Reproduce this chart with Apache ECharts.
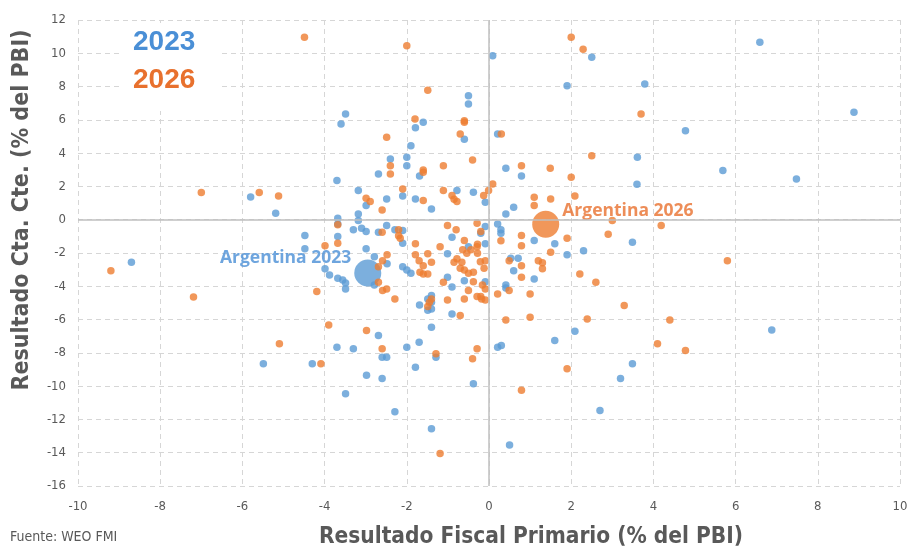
<!DOCTYPE html>
<html><head><meta charset="utf-8">
<script src="https://cdn.jsdelivr.net/npm/echarts@6/dist/echarts.min.js"></script>
<style>html,body{margin:0;padding:0;background:#fff}#c{width:914px;height:549px}</style>
</head><body><div id="c"></div>
<script>
const xTicks = [-10,-8,-6,-4,-2,0,2,4,6,8,10];
const yTicks = [-16,-14,-12,-10,-8,-6,-4,-2,0,2,4,6,8,10,12];
const argentina2023 = [-2.95,-3.2];
const argentina2026 = [1.38,-0.27];
const blue2023 = [
[0.09,9.85],[2.5,9.76],[1.9,8.05],[3.79,8.16],[4.78,5.35],[0.21,5.15],[3.61,3.75],[0.41,3.09],
[6.59,10.66],[8.88,6.46],[5.69,2.95],[-0.50,7.45],[-0.50,6.95],[-3.49,6.35],[-3.60,5.75],[-1.60,5.85],
[-1.79,5.53],[-0.60,4.83],[-1.90,4.45],[-2.40,3.65],[-2.0,3.75],[-2.0,3.25],[-5.80,1.37],[-5.19,0.39],
[-8.70,-2.55],[-2.69,2.75],[-1.69,2.63],[-3.70,2.35],[-3.18,1.75],[-2.10,1.43],[-2.99,0.85],[-2.49,1.25],
[-1.79,1.25],[-1.40,0.65],[-0.78,1.75],[-0.38,1.65],[-3.68,0.09],[-3.68,-0.25],[-3.18,0.35],[-3.18,-0.05],
[-3.30,-0.61],[-3.10,-0.51],[-2.99,-0.71],[-2.49,-0.35],[-2.69,-0.75],[-2.29,-0.61],[-2.10,-0.65],[-2.10,-1.41],
[-4.48,-0.95],[-4.48,-1.75],[-3.68,-1.01],[-2.99,-1.75],[-2.79,-2.22],[-2.48,-2.65],[-2.79,-3.92],[-3.99,-2.95],
[-3.88,-3.32],[-3.68,-3.51],[-3.56,-3.62],[-3.49,-3.81],[-3.49,-4.16],[-2.10,-2.82],[-2.0,-3.02],[-1.90,-3.21],
[-1.01,-2.05],[-1.01,-3.45],[-0.90,-4.05],[-1.40,-4.56],[-1.49,-4.76],[-1.40,-4.96],[-1.69,-5.12],[-1.49,-5.44],
[-1.40,-5.36],[-1.40,-6.46],[-0.90,-5.66],[-0.60,-3.66],[-0.90,-1.05],[-0.50,-1.62],[0.79,2.63],[3.60,2.13],
[-0.09,1.05],[0.60,0.75],[0.41,0.35],[0.21,-0.25],[0.29,-0.61],[0.29,-0.81],[-0.09,-0.41],[-0.20,-0.81],
[-0.09,-1.45],[1.10,-1.25],[1.60,-1.45],[1.90,-2.11],[2.30,-1.87],[3.49,-1.35],[0.53,-2.31],[0.71,-2.31],
[0.60,-3.06],[1.10,-3.56],[-0.09,-3.72],[0.41,-3.92],[0.41,-4.11],[2.09,-6.7],[7.48,2.45],[6.88,-6.62],
[-2.69,-6.96],[-3.70,-7.66],[-3.30,-7.76],[-2.60,-8.26],[-2.49,-8.26],[-4.30,-8.66],[-2.98,-9.34],[-2.60,-9.54],
[-3.49,-10.46],[-2.29,-11.54],[-2.0,-7.66],[-1.70,-7.36],[-1.29,-8.26],[-1.79,-8.86],[-0.38,-9.86],[-1.40,-12.56],
[0.21,-7.66],[0.30,-7.56],[1.60,-7.26],[0.50,-13.54],[2.70,-11.46],[3.20,-9.54],[3.49,-8.66],[-5.49,-8.66]
];
const orange2026 = [
[-0.30,12.36],[-4.49,10.96],[-2.0,10.46],[2.0,10.96],[2.29,10.24],[3.70,6.35],[0.30,5.15],[2.5,3.85],
[0.79,3.25],[1.49,3.09],[-1.49,7.78],[-1.80,6.05],[-0.60,5.95],[-0.60,5.85],[-0.70,5.15],[-2.49,4.95],
[-2.40,3.25],[-1.11,3.25],[-0.40,3.59],[-1.60,2.99],[-7.0,1.63],[-5.59,1.63],[-5.12,1.43],[-9.20,-3.06],
[-7.19,-4.65],[-2.40,2.75],[-1.60,2.85],[-2.10,1.85],[-2.99,1.29],[-2.89,1.09],[-2.60,0.59],[-1.60,1.15],
[-1.11,1.75],[-0.90,1.45],[-0.85,1.23],[-0.78,1.09],[-0.13,1.45],[-3.68,-0.31],[-2.60,-0.75],[-2.20,-0.61],
[-2.20,-0.97],[-2.16,-1.11],[-3.99,-1.56],[-3.68,-1.41],[-2.48,-2.11],[-2.59,-2.46],[-2.69,-2.82],[-2.69,-3.75],
[-2.59,-4.26],[-2.49,-4.16],[-2.29,-4.76],[-4.19,-4.32],[-1.79,-1.45],[-1.19,-1.62],[-1.79,-2.11],[-1.70,-2.46],
[-1.60,-2.76],[-1.68,-3.15],[-1.60,-3.26],[-1.49,-3.26],[-1.49,-2.05],[-1.40,-2.55],[-1.11,-3.75],[-1.01,-4.82],
[-1.40,-4.76],[-1.45,-4.96],[-1.49,-5.22],[-0.70,-5.76],[-0.60,-4.76],[-1.01,-0.35],[-0.80,-0.61],[-0.60,-1.25],
[-0.28,-1.47],[-0.29,-1.62],[-0.29,-0.21],[-0.20,-0.71],[-0.64,-1.81],[-0.54,-2.01],[-0.44,-1.81],[-0.78,-2.35],
[-0.85,-2.55],[-0.66,-2.55],[-0.70,-2.91],[-0.60,-3.02],[-0.50,-3.21],[-0.38,-3.15],[-0.28,-2.01],[-0.21,-2.52],
[-0.12,-2.91],[-0.50,-4.26],[-0.29,-4.62],[-0.18,-4.76],[-0.38,-3.72],[2.0,2.55],[0.09,2.15],[-0.01,1.75],
[1.10,1.35],[1.10,0.85],[1.50,1.25],[2.09,1.43],[0.29,-1.27],[0.79,-0.95],[0.79,-1.56],[1.90,-1.11],
[1.50,-1.95],[3.0,-0.05],[2.90,-0.87],[4.19,-0.35],[0.49,-2.46],[0.79,-2.76],[0.79,-3.45],[1.20,-2.46],
[1.30,-2.58],[1.30,-2.95],[2.21,-3.26],[2.60,-3.75],[-0.09,-2.46],[0.49,-4.26],[0.21,-4.46],[1.00,-4.46],
[-0.16,-3.92],[-0.09,-4.16],[-0.09,-4.82],[-0.20,-4.62],[0.41,-6.02],[1.00,-5.86],[2.39,-5.96],[3.29,-5.16],
[4.40,-6.02],[5.80,-2.46],[-3.90,-6.32],[-5.10,-7.46],[-2.98,-6.66],[-2.60,-7.76],[-4.09,-8.66],[-1.29,-8.06],
[-0.29,-7.76],[-0.40,-8.36],[-1.19,-14.05],[1.90,-8.96],[0.79,-10.24],[4.10,-7.46],[4.78,-7.86]
];
const BLUE = '#5B9BD5', ORANGE = '#ED7D31', GRAY = '#595959';
const chart = echarts.init(document.getElementById('c'), null, {renderer:'canvas'});
const gridLine = {show:true, lineStyle:{color:'#D6D6D6', type:[5,4], width:1}};
chart.setOption({
  animation:false,
  grid:{left:78, right:14, top:20, bottom:63},
  xAxis:{type:'value', min:xTicks[0], max:xTicks[xTicks.length-1], interval:2,
    axisLine:{show:false, onZero:false}, axisTick:{show:false}, splitLine:gridLine,
    axisLabel:{color:GRAY, fontSize:13, fontFamily:'DejaVu Sans Condensed', margin:14}},
  yAxis:{type:'value', min:yTicks[0], max:yTicks[yTicks.length-1], interval:2,
    axisLine:{show:false, onZero:false}, axisTick:{show:false}, splitLine:gridLine,
    axisLabel:{color:GRAY, fontSize:13, fontFamily:'DejaVu Sans Condensed', margin:12}},
  graphic:[
    {type:'rect', left:122, top:23, z:10, shape:{width:100, height:88}, style:{fill:'#fff'}},
    {type:'text', left:133, top:28, z:11, style:{text:'2023', fill:'#4A8FD6', font:'bold 28px "Liberation Sans"'}},
    {type:'text', left:133, top:66, z:11, style:{text:'2026', fill:'#E8712E', font:'bold 28px "Liberation Sans"'}},
    {type:'text', left:10, top:530, style:{text:'Fuente: WEO FMI', fill:GRAY, font:'14px "DejaVu Sans Condensed"'}},
    {type:'text', x:531, y:537, style:{text:'Resultado Fiscal Primario (% del PBI)', fill:GRAY,
      font:'bold 22.5px "DejaVu Sans Condensed"', align:'center', verticalAlign:'middle'}},
    {type:'text', x:22, y:210, rotation:Math.PI/2, style:{text:'Resultado Cta. Cte. (% del PBI)', fill:GRAY,
      font:'bold 23px "DejaVu Sans Condensed"', align:'center', verticalAlign:'middle'}}
  ],
  series:[
    {type:'scatter', data:blue2023, symbolSize:7.5, itemStyle:{color:BLUE}, z:3,
      markLine:{silent:true, symbol:'none', label:{show:false}, lineStyle:{color:'#BFBFBF', type:'solid', width:1.5},
        data:[{xAxis:0},{yAxis:0}]}},
    {type:'scatter', data:[argentina2023], symbolSize:27, itemStyle:{color:BLUE}, z:3,
      label:{show:true, formatter:'Argentina 2023', position:'left', offset:[2,-15], color:'#4A8FD6',
        fontSize:17.5, fontWeight:'bold', fontFamily:'Open Sans'}},
    {type:'scatter', data:orange2026, symbolSize:7.5, itemStyle:{color:ORANGE}, z:4},
    {type:'scatter', data:[argentina2026], symbolSize:27, itemStyle:{color:ORANGE}, z:4,
      label:{show:true, formatter:'Argentina 2026', position:'right', offset:[-2,-13], color:'#E8712E',
        fontSize:17.5, fontWeight:'bold', fontFamily:'Open Sans'}}
  ]
});
</script></body></html>
